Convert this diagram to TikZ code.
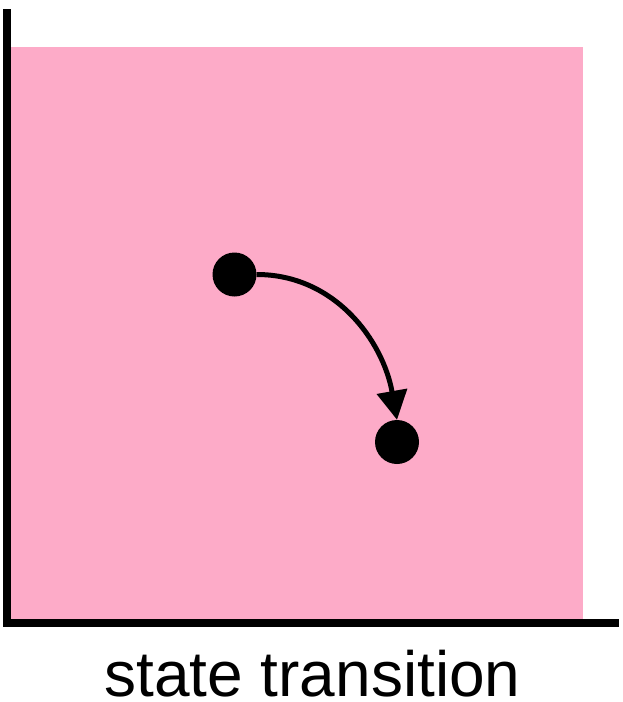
\documentclass[tikz,border=0pt]{standalone}
\usepackage{fontspec}
\setmainfont{Liberation Sans}
\usepackage{xcolor}
\usetikzlibrary{arrows.meta, positioning}
\definecolor{regionpink}{HTML}{FDABC8}

\begin{document}
\begin{tikzpicture}[x=1pt,y=-1pt]
\tikzstyle{statedot}=[circle,fill,inner sep=0pt,minimum size=44pt]
\tikzstyle{axisline}=[line width=8pt]
\useasboundingbox (0,0) rectangle (623,702);

% region
\fill[regionpink] (11,47) rectangle (583,621);

% axes
\coordinate (top) at (7,9);
\coordinate (bottom) at (7,627);
\coordinate (left) at (3,623);
\coordinate (right) at (619,623);
\draw[axisline] (top) -- (bottom);
\draw[axisline] (left) -- (right);

% states
\node[statedot] (s1) at (234.5,274.5) {};
\node[statedot] (s2) at (397,442) {};

\draw[line width=5pt,-{Triangle[length=29pt,width=30pt]}] (s1.east) to[out=0,in=100] (s2.north);

\node[anchor=base,inner sep=0pt] (label) at (312.5,696) {\fontsize{64}{64}\selectfont state transition};

\end{tikzpicture}
\end{document}
